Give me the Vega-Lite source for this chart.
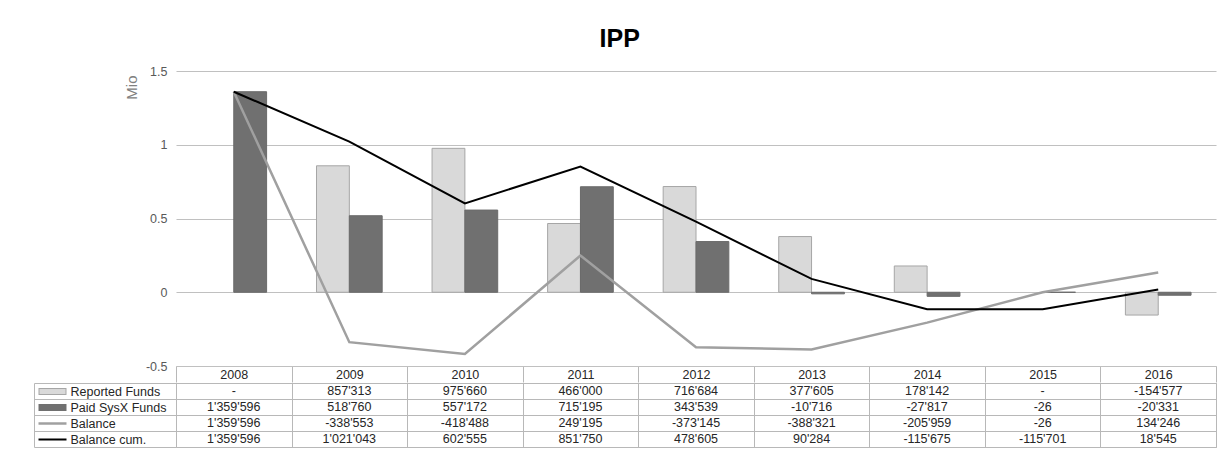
{
  "$schema": "https://vega.github.io/schema/vega-lite/v6.json",
  "padding": {"left": 33, "top": 27, "right": 4, "bottom": 14},
  "background": "white",
  "title": {"text": "IPP", "fontSize": 25, "fontWeight": "bold", "font": "Liberation Sans", "color": "#000000", "anchor": "middle", "frame": "bounds", "offset": 13, "dx": -5},
  "datasets": {
    "d": [
      {"year": 2008, "series": "Reported Funds", "value": null},
      {"year": 2009, "series": "Reported Funds", "value": 857313},
      {"year": 2010, "series": "Reported Funds", "value": 975660},
      {"year": 2011, "series": "Reported Funds", "value": 466000},
      {"year": 2012, "series": "Reported Funds", "value": 716684},
      {"year": 2013, "series": "Reported Funds", "value": 377605},
      {"year": 2014, "series": "Reported Funds", "value": 178142},
      {"year": 2015, "series": "Reported Funds", "value": null},
      {"year": 2016, "series": "Reported Funds", "value": -154577},
      {"year": 2008, "series": "Paid SysX Funds", "value": 1359596},
      {"year": 2009, "series": "Paid SysX Funds", "value": 518760},
      {"year": 2010, "series": "Paid SysX Funds", "value": 557172},
      {"year": 2011, "series": "Paid SysX Funds", "value": 715195},
      {"year": 2012, "series": "Paid SysX Funds", "value": 343539},
      {"year": 2013, "series": "Paid SysX Funds", "value": -10716},
      {"year": 2014, "series": "Paid SysX Funds", "value": -27817},
      {"year": 2015, "series": "Paid SysX Funds", "value": -26},
      {"year": 2016, "series": "Paid SysX Funds", "value": -20331},
      {"year": 2008, "series": "Balance", "value": 1359596},
      {"year": 2009, "series": "Balance", "value": -338553},
      {"year": 2010, "series": "Balance", "value": -418488},
      {"year": 2011, "series": "Balance", "value": 249195},
      {"year": 2012, "series": "Balance", "value": -373145},
      {"year": 2013, "series": "Balance", "value": -388321},
      {"year": 2014, "series": "Balance", "value": -205959},
      {"year": 2015, "series": "Balance", "value": -26},
      {"year": 2016, "series": "Balance", "value": 134246},
      {"year": 2008, "series": "Balance cum.", "value": 1359596},
      {"year": 2009, "series": "Balance cum.", "value": 1021043},
      {"year": 2010, "series": "Balance cum.", "value": 602555},
      {"year": 2011, "series": "Balance cum.", "value": 851750},
      {"year": 2012, "series": "Balance cum.", "value": 478605},
      {"year": 2013, "series": "Balance cum.", "value": 90284},
      {"year": 2014, "series": "Balance cum.", "value": -115675},
      {"year": 2015, "series": "Balance cum.", "value": -115701},
      {"year": 2016, "series": "Balance cum.", "value": 18545}
    ]
  },
  "spacing": -7,
  "vconcat": [
    {
      "width": 1040,
      "height": 295,
      "view": {"stroke": null},
      "data": {"name": "d"},
      "layer": [
        {
          "transform": [{"filter": "datum.series === 'Reported Funds' || datum.series === 'Paid SysX Funds'"}],
          "mark": {"type": "bar", "strokeWidth": 1},
          "encoding": {
            "x": {
              "field": "year", "type": "ordinal",
              "scale": {"paddingInner": 0, "paddingOuter": 0},
              "axis": {"orient": "bottom", "tickBand": "extent", "tickSize": 16, "tickColor": "#b8b8b8", "tickWidth": 1, "domainColor": "#c0c0c0", "domainWidth": 1.2, "labelPadding": -14, "labelAngle": 0, "labelFontSize": 12.5, "labelColor": "#262626", "labelFont": "Liberation Sans", "title": null}
            },
            "xOffset": {"field": "series", "type": "nominal", "sort": ["Reported Funds", "Paid SysX Funds"], "scale": {"paddingInner": 0, "paddingOuter": 0.76}},
            "y": {
              "field": "value", "type": "quantitative",
              "scale": {"domain": [-500000, 1500000], "nice": false},
              "axis": {"values": [-500000, 0, 500000, 1000000, 1500000], "labelExpr": "format(datum.value / 1000000, '.1~f')", "grid": true, "gridColor": "#c0c0c0", "gridWidth": 1.2, "domain": false, "ticks": false, "tickSize": 0, "labelPadding": 9, "labelFontSize": 12.5, "labelColor": "#595959", "labelFont": "Liberation Sans", "title": "Mio", "titleFontSize": 15, "titleFontWeight": "normal", "titleColor": "#808080", "titleFont": "Liberation Sans", "titleAnchor": "end", "titleY": 4, "titlePadding": 6}
            },
            "fill": {"field": "series", "type": "nominal", "scale": {"domain": ["Reported Funds", "Paid SysX Funds"], "range": ["#d9d9d9", "#707070"]}, "legend": null},
            "stroke": {"condition": {"test": "datum.series === 'Reported Funds'", "value": "#a6a6a6"}, "value": "#6a6a6a"}
          }
        },
        {
          "transform": [{"filter": "datum.series === 'Balance' || datum.series === 'Balance cum.'"}],
          "mark": {"type": "line"},
          "encoding": {
            "x": {"field": "year", "type": "ordinal"},
            "y": {"field": "value", "type": "quantitative"},
            "stroke": {"field": "series", "type": "nominal", "scale": {"domain": ["Balance", "Balance cum."], "range": ["#a0a0a0", "#000000"]}, "legend": null},
            "strokeWidth": {"condition": {"test": "datum.series === 'Balance'", "value": 2.5}, "value": 2}
          }
        }
      ]
    },
    {
      "width": 1040,
      "height": 64,
      "view": {"stroke": "#b8b8b8", "strokeWidth": 1},
      "data": {"name": "d"},
      "layer": [
        {
          "mark": {"type": "text", "fontSize": 12.5, "color": "#262626", "font": "Liberation Sans"},
          "encoding": {
            "x": {
              "field": "year", "type": "ordinal",
              "scale": {"paddingInner": 0, "paddingOuter": 0},
              "axis": {"orient": "bottom", "grid": true, "gridColor": "#b8b8b8", "gridWidth": 1, "tickBand": "extent", "ticks": false, "tickSize": 0, "labels": false, "labelPadding": 0, "domain": false, "title": null}
            },
            "y": {
              "field": "series", "type": "nominal",
              "sort": ["Reported Funds", "Paid SysX Funds", "Balance", "Balance cum."],
              "scale": {"paddingInner": 0, "paddingOuter": 0},
              "axis": {"orient": "left", "tickBand": "extent", "tickSize": 142, "tickColor": "#b8b8b8", "tickWidth": 1, "grid": true, "gridColor": "#b8b8b8", "gridWidth": 1, "domain": false, "labelAlign": "left", "labelPadding": -36, "labelFontSize": 12.5, "labelColor": "#262626", "labelFont": "Liberation Sans", "title": null}
            },
            "text": {"field": "value", "type": "quantitative", "format": ",d", "condition": {"test": "datum.value === null", "value": "-"}}
          }
        },
        {
          "mark": {"type": "text", "opacity": 0},
          "encoding": {
            "y": {
              "field": "series", "type": "nominal",
              "sort": ["Reported Funds", "Paid SysX Funds", "Balance", "Balance cum."],
              "axis": {"orient": "left", "offset": 110, "tickSize": 28, "ticks": true, "labels": false, "domain": false, "grid": false, "title": null,
                "tickColor": {"condition": [
                  {"test": "datum.value === 'Reported Funds'", "value": "#a6a6a6"},
                  {"test": "datum.value === 'Paid SysX Funds'", "value": "#707070"},
                  {"test": "datum.value === 'Balance'", "value": "#a0a0a0"}
                ], "value": "#000000"},
                "tickWidth": {"condition": [
                  {"test": "datum.value === 'Reported Funds' || datum.value === 'Paid SysX Funds'", "value": 7},
                  {"test": "datum.value === 'Balance'", "value": 2.5}
                ], "value": 2}
              }
            },
            "text": {"value": ""}
          }
        },
        {
          "mark": {"type": "text", "opacity": 0},
          "encoding": {
            "y": {
              "field": "series", "type": "nominal",
              "sort": ["Reported Funds", "Paid SysX Funds", "Balance", "Balance cum."],
              "axis": {"orient": "left", "offset": 111, "tickSize": 26, "ticks": true, "labels": false, "domain": false, "grid": false, "title": null,
                "tickColor": {"condition": {"test": "datum.value === 'Reported Funds'", "value": "#d9d9d9"}, "value": "transparent"},
                "tickWidth": 5
              }
            },
            "text": {"value": ""}
          }
        },
        {
          "mark": {"type": "text", "opacity": 0},
          "encoding": {
            "y": {
              "field": "series", "type": "nominal",
              "sort": ["Reported Funds", "Paid SysX Funds", "Balance", "Balance cum."],
              "axis": {"orient": "left", "offset": 142, "domain": true, "domainColor": "#b8b8b8", "domainWidth": 1, "ticks": false, "labels": false, "grid": false, "title": null}
            },
            "text": {"value": ""}
          }
        }
      ],
      "resolve": {"axis": {"y": "independent"}}
    }
  ],
  "config": {
    "font": "Liberation Sans",
    "locale": {"number": {"decimal": ".", "thousands": "'", "grouping": [3], "currency": ["", ""], "minus": "-"}}
  }
}
